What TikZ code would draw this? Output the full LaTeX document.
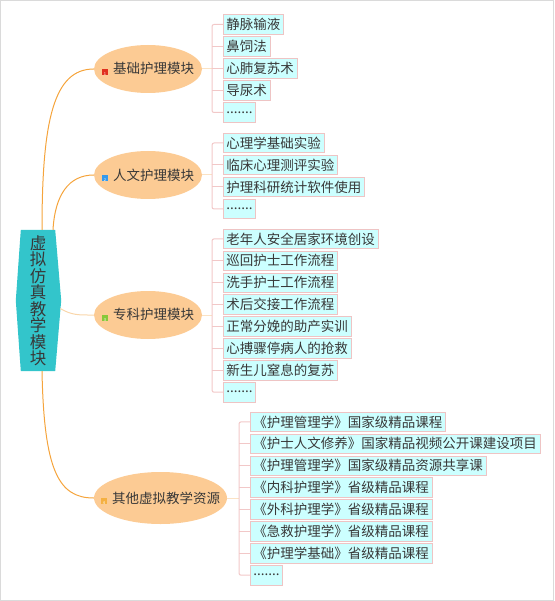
\documentclass[tikz,border=0pt]{standalone}
\usepackage{xcolor}
\usepackage{fontspec}
\setmainfont{Noto Sans CJK SC}
\usepackage{tikz}
\usetikzlibrary{positioning,calc,backgrounds,shapes.geometric}

\definecolor{hubteal}{HTML}{33C5CB}
\definecolor{peach}{HTML}{FCCB94}
\definecolor{leaffill}{HTML}{CCFFFF}
\definecolor{leafline}{HTML}{EEC4C4}
\definecolor{bracketpink}{HTML}{F2C8C8}
\definecolor{linkorange}{HTML}{F5A43C}
\definecolor{linkpale}{HTML}{F9D6AA}
\definecolor{stempale}{HTML}{FBE2C4}
\definecolor{textgrey}{HTML}{383838}
\definecolor{framegrey}{HTML}{DADADA}
\definecolor{prioRed}{HTML}{E0301E}
\definecolor{prioBlue}{HTML}{3399EE}
\definecolor{prioGreen}{HTML}{88C83A}
\definecolor{prioOrange}{HTML}{F5B041}

% small priority marker in front of a branch label
\newcommand{\prio}[2]{{\setlength{\fboxsep}{0pt}\raisebox{-1.4pt}{\colorbox{#1}{\makebox[6pt]{\rule{0pt}{6pt}\fontsize{4}{4}\selectfont\color{white}#2}}}}}
\newcommand{\btext}[3]{\makebox[0pt]{\prio{#1}{#2}\hspace{5pt}#3}}
\newcommand{\moredots}{.......}

\begin{document}
\begin{tikzpicture}[
    x=1pt, y=-1pt,
    hub/.style={minimum width=34pt, minimum height=141pt, inner sep=0pt, align=center, text=textgrey, font=\fontsize{16.5}{16.5}\selectfont},
    branch/.style={ellipse, fill=peach, minimum width=108pt, minimum height=48pt, inner sep=0pt, text=textgrey, font=\fontsize{13.5}{14}\selectfont},
    leaf/.style={draw=leafline, fill=leaffill, line width=0.8pt, minimum height=19.5pt, inner xsep=3pt, inner ysep=0pt, anchor=west, text=textgrey, font=\fontsize{13.5}{14}\selectfont},
    link/.style={linkorange, line width=1pt},
    stem/.style={stempale, line width=1pt},
    bracket/.style={bracketpink, line width=1pt}
]
\useasboundingbox (0,0) rectangle (554,601);
\draw[framegrey, line width=1pt] (0.5,0.5) rectangle (553.5,600.5);

% centre
\node[hub] (hub) at (38,300.5) {虚\\拟\\仿\\真\\教\\学\\模\\块};
\begin{scope}[on background layer]
\fill[hubteal] (hub.north west) -- (hub.north east) -- ($(hub.east)+(6,0)$)
    -- (hub.south east) -- (hub.south west) -- ($(hub.west)+(-5,0)$) -- cycle;
\end{scope}

% branches
\node[branch] (b1) at (148,69) {\btext{prioRed}{1}{基础护理模块}};
\node[branch] (b2) at (148,175) {\btext{prioBlue}{2}{人文护理模块}};
\node[branch] (b3) at (148,315) {\btext{prioGreen}{3}{专科护理模块}};
\node[branch, minimum width=133pt, minimum height=52pt] (b4) at (160.5,498) {\btext{prioOrange}{4}{其他虚拟教学资源}};

\draw[link] ([xshift=4pt]hub.north) .. controls +(0,-110) and +(-40,0) .. (b1.west);
\draw[link] ([xshift=15pt]hub.north) .. controls +(2,-35) and +(-25,0) .. (b2.west);
\draw[linkpale, line width=1pt] ($(hub.east)+(5,8)$) .. controls +(12,7) and +(-15,0) .. (b3.west);
\draw[link] ([xshift=4pt]hub.south) .. controls +(2,100) and +(-35,0) .. (b4.west);

% leaves
\foreach \t [count=\i] in {静脉输液,鼻饲法,心肺复苏术,导尿术,\moredots}
  \node[leaf] (a\i) at (223,2.5+22*\i) {\t};
\foreach \t [count=\i] in {心理学基础实验,临床心理测评实验,护理科研统计软件使用,\moredots}
  \node[leaf] (c\i) at (223,121+22*\i) {\t};
\foreach \t [count=\i] in {老年人安全居家环境创设,巡回护士工作流程,洗手护士工作流程,术后交接工作流程,
    正常分娩的助产实训,心搏骤停病人的抢救,新生儿窒息的复苏,\moredots}
  \node[leaf] (d\i) at (223,217+21.9*\i) {\t};
\foreach \t [count=\i] in {《护理管理学》国家级精品课程,《护士人文修养》国家精品视频公开课建设项目,
    《护理管理学》国家级精品资源共享课,《内科护理学》省级精品课程,《外科护理学》省级精品课程,
    《急救护理学》省级精品课程,《护理学基础》省级精品课程,\moredots}
  \node[leaf] (e\i) at (250,400+21.9*\i) {\t};

% brackets
\draw[stem] (b1.east) -- ++(10,0);
\draw[bracket, rounded corners=2pt] (a1.west) -- ++(-11,0) |- (a5.west);
\foreach \i in {2,...,4} \draw[bracket] (a\i.west) -- ++(-11,0);

\draw[stem] (b2.east) -- ++(10,0);
\draw[bracket, rounded corners=2pt] (c1.west) -- ++(-11,0) |- (c4.west);
\foreach \i in {2,3} \draw[bracket] (c\i.west) -- ++(-11,0);

\draw[stem] (b3.east) -- ++(10,0);
\draw[bracket, rounded corners=2pt] (d1.west) -- ++(-11,0) |- (d8.west);
\foreach \i in {2,...,7} \draw[bracket] (d\i.west) -- ++(-11,0);

\draw[stem] (b4.east) -- ++(12,0);
\draw[bracket, rounded corners=2pt] (e1.west) -- ++(-11,0) |- (e8.west);
\foreach \i in {2,...,7} \draw[bracket] (e\i.west) -- ++(-11,0);
\end{tikzpicture}
\end{document}
